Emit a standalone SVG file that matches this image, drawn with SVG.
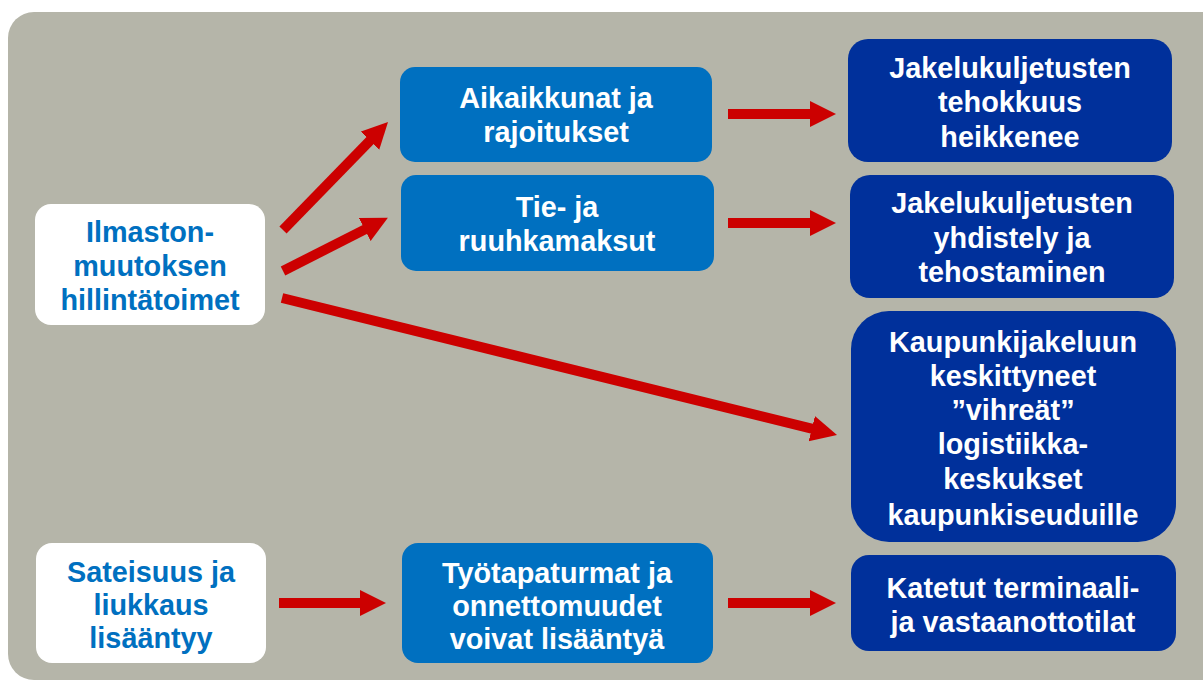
<svg xmlns="http://www.w3.org/2000/svg" width="1203" height="683" viewBox="0 0 1203 683">
  <defs>
    <style>
      .panel { fill: #B5B5A9; }
      .src { fill: #FFFFFF; }
      .mid { fill: #0070C0; }
      .out { fill: #00309B; }
      text { font-family: "Liberation Sans", Arial, sans-serif; font-weight: bold; font-size: 28.8px; text-anchor: middle; }
      .dark { fill: #0070C0; }
      .light { fill: #FFFFFF; }
      .arrow { stroke: #CC0000; stroke-width: 10; fill: none; marker-end: url(#head); }
    </style>
    <marker id="head" markerUnits="userSpaceOnUse" markerWidth="28" markerHeight="28" refX="2" refY="13" orient="auto">
      <path d="M0,0 L26,13 L0,26 z" fill="#CC0000"/>
    </marker>
  </defs>

  <!-- background panel -->
  <rect class="panel" x="8" y="12" width="1240" height="668" rx="26"/>

  <!-- causes -->
  <g id="ilmastonmuutos">
    <rect class="src" x="35" y="204" width="230" height="121" rx="16"/>
    <text class="dark" x="150" y="242">Ilmaston-</text>
    <text class="dark" x="150" y="276">muutoksen</text>
    <text class="dark" x="150" y="310">hillintätoimet</text>
  </g>
  <g id="sateisuus">
    <rect class="src" x="36" y="543" width="230" height="120" rx="16"/>
    <text class="dark" x="151" y="582">Sateisuus ja</text>
    <text class="dark" x="151" y="615">liukkaus</text>
    <text class="dark" x="151" y="648">lisääntyy</text>
  </g>

  <!-- intermediate effects -->
  <g id="aikaikkunat">
    <rect class="mid" x="400" y="67" width="312" height="95" rx="15"/>
    <text class="light" x="556" y="108">Aikaikkunat ja</text>
    <text class="light" x="556" y="142">rajoitukset</text>
  </g>
  <g id="ruuhkamaksut">
    <rect class="mid" x="401" y="175" width="313" height="96" rx="15"/>
    <text class="light" x="557" y="217">Tie- ja</text>
    <text class="light" x="557" y="251">ruuhkamaksut</text>
  </g>
  <g id="tyotapaturmat">
    <rect class="mid" x="402" y="543" width="311" height="120" rx="16"/>
    <text class="light" x="557" y="583">Työtapaturmat ja</text>
    <text class="light" x="557" y="616">onnettomuudet</text>
    <text class="light" x="557" y="649">voivat lisääntyä</text>
  </g>

  <!-- outcomes -->
  <g id="tehokkuus">
    <rect class="out" x="848" y="39" width="324" height="123" rx="20"/>
    <text class="light" x="1010" y="78">Jakelukuljetusten</text>
    <text class="light" x="1010" y="112">tehokkuus</text>
    <text class="light" x="1010" y="147">heikkenee</text>
  </g>
  <g id="yhdistely">
    <rect class="out" x="850" y="175" width="324" height="123" rx="20"/>
    <text class="light" x="1012" y="213">Jakelukuljetusten</text>
    <text class="light" x="1012" y="248">yhdistely ja</text>
    <text class="light" x="1012" y="282">tehostaminen</text>
  </g>
  <g id="logistiikkakeskukset">
    <rect class="out" x="851" y="311" width="325" height="231" rx="38"/>
    <text class="light" x="1013" y="352">Kaupunkijakeluun</text>
    <text class="light" x="1013" y="386">keskittyneet</text>
    <text class="light" x="1013" y="420">”vihreät”</text>
    <text class="light" x="1013" y="454">logistiikka-</text>
    <text class="light" x="1013" y="489">keskukset</text>
    <text class="light" x="1013" y="525">kaupunkiseuduille</text>
  </g>
  <g id="terminaalit">
    <rect class="out" x="851" y="555" width="325" height="96" rx="18"/>
    <text class="light" x="1013" y="598">Katetut terminaali-</text>
    <text class="light" x="1013" y="632">ja vastaanottotilat</text>
  </g>

  <!-- connectors -->
  <g id="connectors">
    <line class="arrow" x1="283" y1="230" x2="371.3" y2="139.2"/>
    <line class="arrow" x1="283" y1="271" x2="366.5" y2="228.6"/>
    <line class="arrow" x1="282" y1="298" x2="813.7" y2="429.2"/>
    <line class="arrow" x1="728" y1="114" x2="812" y2="114"/>
    <line class="arrow" x1="728" y1="223" x2="812" y2="223"/>
    <line class="arrow" x1="279" y1="603" x2="362" y2="603"/>
    <line class="arrow" x1="728" y1="603" x2="812" y2="603"/>
  </g>
</svg>
